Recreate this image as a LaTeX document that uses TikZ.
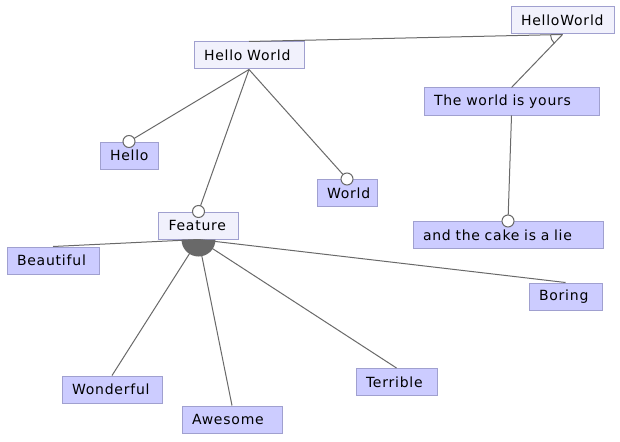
\documentclass[tikz,border=0pt]{standalone}
\usepackage{fontspec}
\setmainfont{DejaVu Sans}[LetterSpace=5.5]
\definecolor{lightfill}{HTML}{F1F1FC}
\definecolor{darkfill}{HTML}{CCCCFF}
\definecolor{boxborder}{HTML}{A0A0CF}
\definecolor{linkcol}{HTML}{696969}
\begin{document}
\begin{tikzpicture}[x=1pt,y=-1pt,
  fbox/.style={draw=boxborder,line width=1pt,minimum height=27pt,inner ysep=0pt,
    inner xsep=10pt,text width=#1pt-20pt,align=left,
    font=\fontsize{14}{16}\selectfont,text=black},
  lightbox/.style={fbox=#1,fill=lightfill},
  darkbox/.style={fbox=#1,fill=darkfill},
  link/.style={draw=linkcol,line width=1pt},
  optc/.style={draw=linkcol,line width=1pt,fill=white}]
\useasboundingbox (0,0) rectangle (620,441);
\fill[white] (0,0) rectangle (620,441);
% nodes
\node[lightbox=103] (hwroot) at (562.5,20.5) {HelloWorld};
\node[lightbox=110] (hw) at (249,55.5) {Hello World};
\node[darkbox=175] (wy) at (511.5,101.5) {The world is yours};
\node[darkbox=58] (hello) at (129,155.5) {Hello};
\node[darkbox=60] (world) at (347,193) {World};
\node[lightbox=80] (feat) at (198.5,225.5) {Feature};
\node[darkbox=190] (cake) at (508,235) {and the cake is a lie};
\node[darkbox=92] (beau) at (53,260.5) {Beautiful};
\node[darkbox=73] (bor) at (565.5,296.5) {Boring};
\node[darkbox=100] (won) at (112,389.5) {Wonderful};
\node[darkbox=81] (ter) at (396.5,382) {Terrible};
\node[darkbox=100] (awe) at (232,419.5) {Awesome};
% root alternative group
\draw[link] (hwroot.south) -- (hw.north);
\draw[link] (hwroot.south) -- (wy.north);
\draw[link] (hwroot.south) ++(132.8:12) arc[start angle=132.8,end angle=178.7,radius=12];
% Hello World children (optional)
\draw[link] (hw.south) -- (hello.north);
\draw[link] (hw.south) -- (world.north);
\draw[link] (hw.south) -- (feat.north);
\draw[optc] (hello.north) circle[radius=6];
\draw[optc] (world.north) circle[radius=6];
\draw[optc] (feat.north) circle[radius=6];
% The world is yours -> cake
\draw[link] (wy.south) -- (cake.north);
\draw[optc] (cake.north) circle[radius=6];
% Feature or-group
\draw[link] (feat.south) -- (beau.north);
\draw[link] (feat.south) -- (bor.north);
\draw[link] (feat.south) -- (won.north);
\draw[link] (feat.south) -- (awe.north);
\draw[link] (feat.south) -- (ter.north);
\fill[linkcol] (feat.south) ++(17,0) arc[start angle=0,end angle=180,radius=17] -- cycle;
\end{tikzpicture}
\end{document}
